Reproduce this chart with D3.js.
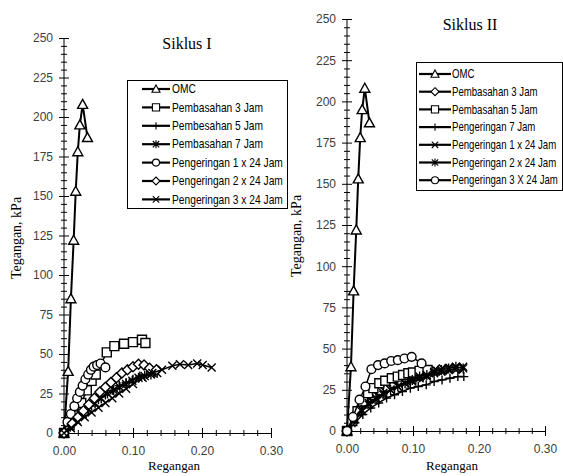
<!DOCTYPE html>
<html>
<head>
<meta charset="utf-8">
<script src="https://cdn.jsdelivr.net/npm/d3@7"></script>
<style>
  body { margin: 0; background: #fff; }
  .tick text { font-family: 'Liberation Sans', Arial, sans-serif; font-size: 12px; fill: #404040; }
  .serif { font-family: 'Liberation Serif', 'Times New Roman', serif; fill: #000; }
  .legend-text { font-family: 'Liberation Sans', Arial, sans-serif; font-size: 12px; fill: #000; }
</style>
</head>
<body>
<svg id="chart" width="563" height="476"></svg>
<script>
// ticks
const xTicks = [0, 0.1, 0.2, 0.3]
const yTicks = [0, 25, 50, 75, 100, 125, 150, 175, 200, 225, 250]

// OMC curve (same in both cycles)
const omcStrain = [0, 0.006, 0.010, 0.014, 0.017, 0.020, 0.023, 0.027, 0.034]
const omcStress = [0, 39, 85, 122, 153, 178, 195, 208, 187]

// Siklus I
const s1Basah3Strain = [0, 0.008, 0.016, 0.025, 0.033, 0.040, 0.046, 0.062, 0.073, 0.087, 0.100, 0.113, 0.118]
const s1Basah3Stress = [0, 5, 11, 19, 27, 33, 37, 51, 55, 56.5, 57.5, 59, 57]
const s1Basah5Strain = [0, 0.010, 0.020, 0.030, 0.040, 0.050, 0.060, 0.070, 0.080, 0.090, 0.100, 0.110, 0.120, 0.130]
const s1Basah5Stress = [0, 5, 9, 13, 17, 21, 24, 27, 30, 32, 34, 36, 37, 38]
const s1Basah7Strain = [0, 0.009, 0.018, 0.027, 0.036, 0.045, 0.054, 0.063, 0.072, 0.081, 0.090, 0.099, 0.108, 0.117, 0.126, 0.135]
const s1Basah7Stress = [0, 4, 8, 12, 15, 19, 22, 25, 27, 29, 31, 33, 35, 36, 37, 38]
const s1Kering1Strain = [0, 0.005, 0.010, 0.015, 0.019, 0.023, 0.027, 0.031, 0.035, 0.039, 0.043, 0.048, 0.053, 0.060]
const s1Kering1Stress = [0, 7, 12, 17, 22, 26, 30, 34, 37, 40, 42, 43, 44, 41.5]
const s1Kering2Strain = [0, 0.012, 0.020, 0.028, 0.036, 0.044, 0.052, 0.060, 0.068, 0.076, 0.084, 0.092, 0.100, 0.108, 0.116, 0.124, 0.134]
const s1Kering2Stress = [0, 6, 10, 14, 18, 22, 26, 29, 32, 35, 38, 40, 42, 43.5, 43, 41, 40]
const s1Kering3Strain = [0, 0.010, 0.020, 0.030, 0.040, 0.050, 0.060, 0.070, 0.080, 0.090, 0.100, 0.114, 0.128, 0.142, 0.157, 0.168, 0.180, 0.193, 0.201, 0.214]
const s1Kering3Stress = [0, 3, 7, 10, 13, 16, 19, 22, 25, 28, 31, 35, 38, 40, 42.5, 43.5, 43, 44, 43, 41.5]

// Siklus II
const s2Basah3Strain = [0, 0.010, 0.020, 0.030, 0.040, 0.050, 0.060, 0.070, 0.080, 0.090, 0.100, 0.110, 0.120, 0.130, 0.140, 0.150, 0.160, 0.170]
const s2Basah3Stress = [0, 9, 14, 18, 21, 24, 26, 28, 30, 31, 32, 33, 35, 36, 37, 37.5, 38, 38]
const s2Basah5Strain = [0, 0.008, 0.016, 0.024, 0.032, 0.040, 0.049, 0.058, 0.068, 0.077, 0.085, 0.093, 0.100, 0.110, 0.122]
const s2Basah5Stress = [0, 6, 12, 18, 23, 26, 29, 30.5, 32, 33, 34, 35, 35.5, 36.5, 37]
const s2Kering7Strain = [0, 0.012, 0.024, 0.036, 0.048, 0.060, 0.072, 0.084, 0.096, 0.108, 0.120, 0.132, 0.144, 0.156, 0.168, 0.177]
const s2Kering7Stress = [0, 5, 10, 14, 17, 20, 22, 24, 26, 27, 28, 30, 31, 32, 33, 33]
const s2Kering1Strain = [0, 0.011, 0.022, 0.033, 0.044, 0.055, 0.066, 0.077, 0.088, 0.099, 0.110, 0.121, 0.132, 0.143, 0.154, 0.165, 0.176]
const s2Kering1Stress = [0, 7, 12, 16, 19, 22, 25, 27, 29, 30, 32, 33, 35, 36, 37, 38, 39]
const s2Kering2Strain = [0, 0.011, 0.022, 0.033, 0.044, 0.055, 0.066, 0.077, 0.088, 0.099, 0.110, 0.121, 0.132, 0.143, 0.154, 0.165, 0.176]
const s2Kering2Stress = [0, 8, 13, 17, 20, 23, 25, 27, 29, 31, 33, 34, 36, 37, 38, 39, 38]
const s2Kering3Strain = [0, 0.009, 0.019, 0.028, 0.037, 0.047, 0.057, 0.067, 0.077, 0.087, 0.098, 0.113]
const s2Kering3Stress = [0, 8.5, 19, 27, 37.5, 40, 41, 42.5, 43, 44, 45, 41]

const zip = (xs, ys) => xs.map((x, i) => [x, ys[i]])

const panels = [
  {
    title: 'Siklus I',
    titlePos: [187, 49],
    xRange: [64, 271],
    yRange: [433, 38],
    xLabelPos: [174, 470],
    yLabelPos: [21, 238],
    legend: { x: 127, y: 80, w: 160, h: 128, row0: 89, rowGap: 18.4, lineX: [142, 170], textX: 172, maxText: 111 },
    series: [
      { name: 'OMC', marker: 'triangle', width: 2, data: zip(omcStrain, omcStress) },
      { name: 'Pembasahan 3 Jam', marker: 'square', width: 1.5, data: zip(s1Basah3Strain, s1Basah3Stress) },
      { name: 'Pembesahan 5 Jam', marker: 'plus', width: 1.5, data: zip(s1Basah5Strain, s1Basah5Stress) },
      { name: 'Pembasahan 7 Jam', marker: 'star', width: 1.5, data: zip(s1Basah7Strain, s1Basah7Stress) },
      { name: 'Pengeringan 1 x 24 Jam', marker: 'circle', width: 1.5, data: zip(s1Kering1Strain, s1Kering1Stress) },
      { name: 'Pengeringan 2 x 24 Jam', marker: 'diamond', width: 1.5, data: zip(s1Kering2Strain, s1Kering2Stress) },
      { name: 'Pengeringan 3 x 24 Jam', marker: 'x', width: 1.5, data: zip(s1Kering3Strain, s1Kering3Stress) }
    ]
  },
  {
    title: 'Siklus II',
    titlePos: [470, 30],
    xRange: [347, 545],
    yRange: [431, 19],
    xLabelPos: [452, 470],
    yLabelPos: [301, 236],
    legend: { x: 416, y: 62, w: 146, h: 128, row0: 74, rowGap: 17.7, lineX: [419, 451], textX: 452, maxText: 106 },
    series: [
      { name: 'OMC', marker: 'triangle', width: 2, data: zip(omcStrain, omcStress) },
      { name: 'Pembasahan 3 Jam', marker: 'diamond', width: 1.5, data: zip(s2Basah3Strain, s2Basah3Stress) },
      { name: 'Pembasahan 5 Jam', marker: 'square', width: 1.5, data: zip(s2Basah5Strain, s2Basah5Stress) },
      { name: 'Pengeringan 7 Jam', marker: 'plus', width: 1.5, data: zip(s2Kering7Strain, s2Kering7Stress) },
      { name: 'Pengeringan 1 x 24 Jam', marker: 'x', width: 1.5, data: zip(s2Kering1Strain, s2Kering1Stress) },
      { name: 'Pengeringan 2 x 24 Jam', marker: 'star', width: 1.5, data: zip(s2Kering2Strain, s2Kering2Stress) },
      { name: 'Pengeringan 3 X 24 Jam', marker: 'circle', width: 1.5, data: zip(s2Kering3Strain, s2Kering3Stress) }
    ]
  }
]

const svg = d3.select('#chart')

function markerPath (type) {
  switch (type) {
    case 'triangle': return 'M0,-5L5,4L-5,4Z'
    case 'square': return 'M-4.5,-4.5H4.5V4.5H-4.5Z'
    case 'circle': return d3.symbol(d3.symbolCircle, 60)()
    case 'diamond': return 'M0,-5L5,0L0,5L-5,0Z'
    case 'plus': return 'M-4.5,0H4.5M0,-4.5V4.5'
    case 'x': return 'M-4,-4L4,4M-4,4L4,-4'
    case 'star': return 'M-4,-4L4,4M-4,4L4,-4M0,-5V5'
    default:
      console.warn(`unknown marker: ${type}`)
      return ''
  }
}

function drawMarker (sel, type) {
  const filled = ['triangle', 'square', 'circle', 'diamond'].includes(type)
  sel.append('path')
    .attr('d', markerPath(type))
    .attr('fill', filled ? '#fff' : 'none')
    .attr('stroke', '#000')
    .attr('stroke-width', 1.4)
}

function minorValues (step, max, majorStep) {
  const out = []
  for (let v = 0; v <= max + 1e-9; v += step) {
    const r = Math.round(v / step) * step
    if (Math.abs(r / majorStep - Math.round(r / majorStep)) > 1e-6) out.push(r)
  }
  return out
}

panels.forEach(function (p) {
  const x = d3.scaleLinear().domain([0, 0.3]).range(p.xRange)
  const y = d3.scaleLinear().domain([0, 250]).range(p.yRange)
  const g = svg.append('g')

  // y axis: minor then major, ticks crossing the axis line
  const yMinor = g.append('g')
    .attr('transform', `translate(${p.xRange[0]},0)`)
    .call(d3.axisLeft(y).tickValues(minorValues(5, 250, 25)).tickSize(3).tickSizeOuter(0).tickFormat(''))
  yMinor.select('.domain').remove()
  yMinor.selectAll('.tick line').attr('x1', 3)

  const yAxis = g.append('g')
    .attr('transform', `translate(${p.xRange[0]},0)`)
    .call(d3.axisLeft(y).tickValues(yTicks).tickSize(5).tickSizeOuter(0).tickPadding(6))
  yAxis.selectAll('.tick line').attr('x1', 5)
  yAxis.select('.domain').attr('d', `M0,${p.yRange[1]}V${p.yRange[0]}`)

  // x axis
  const xMinor = g.append('g')
    .attr('transform', `translate(0,${p.yRange[0]})`)
    .call(d3.axisBottom(x).tickValues(minorValues(0.02, 0.3, 0.1)).tickSize(3).tickSizeOuter(0).tickFormat(''))
  xMinor.select('.domain').remove()
  xMinor.selectAll('.tick line').attr('y1', -3)

  const xAxis = g.append('g')
    .attr('transform', `translate(0,${p.yRange[0]})`)
    .call(d3.axisBottom(x).tickValues(xTicks).tickSize(5).tickSizeOuter(0).tickPadding(8).tickFormat(d3.format('.2f')))
  xAxis.selectAll('.tick line').attr('y1', -5)

  g.selectAll('.domain, .tick line').attr('stroke', '#000')

  // series
  const line = d3.line().x(d => x(d[0])).y(d => y(d[1]))
  p.series.forEach(function (s) {
    g.append('path')
      .datum(s.data)
      .attr('d', line)
      .attr('fill', 'none')
      .attr('stroke', '#000')
      .attr('stroke-width', s.width)
    g.selectAll(null)
      .data(s.data)
      .enter()
      .append('g')
      .attr('transform', d => `translate(${x(d[0])},${y(d[1])})`)
      .each(function () { drawMarker(d3.select(this), s.marker) })
  })

  // titles
  g.append('text').attr('class', 'serif')
    .attr('x', p.titlePos[0]).attr('y', p.titlePos[1])
    .attr('text-anchor', 'middle').attr('font-size', 16)
    .text(p.title)
  g.append('text').attr('class', 'serif')
    .attr('x', p.xLabelPos[0]).attr('y', p.xLabelPos[1])
    .attr('text-anchor', 'middle').attr('font-size', 13)
    .text('Regangan')
  g.append('text').attr('class', 'serif')
    .attr('transform', `translate(${p.yLabelPos[0]},${p.yLabelPos[1]}) rotate(-90)`)
    .attr('text-anchor', 'middle').attr('font-size', 14)
    .text('Tegangan, kPa')

  // legend
  const L = p.legend
  const lg = g.append('g')
  lg.append('rect')
    .attr('x', L.x + 0.5).attr('y', L.y + 0.5)
    .attr('width', L.w).attr('height', L.h)
    .attr('fill', '#fff').attr('stroke', '#000').attr('stroke-width', 1)
  const labels = []
  p.series.forEach(function (s, i) {
    const ry = L.row0 + i * L.rowGap
    lg.append('line')
      .attr('x1', L.lineX[0]).attr('x2', L.lineX[1])
      .attr('y1', ry).attr('y2', ry)
      .attr('stroke', '#000').attr('stroke-width', 2.2)
    const m = lg.append('g')
      .attr('transform', `translate(${(L.lineX[0] + L.lineX[1]) / 2},${ry}) scale(0.8)`)
    drawMarker(m, s.marker)
    const holder = lg.append('g').attr('transform', `translate(${L.textX},${ry})`)
    holder.append('text').attr('class', 'legend-text')
      .attr('dy', '0.35em')
      .text(s.name)
    labels.push(holder)
  })
  // narrow the sans face so the longest entry fits like the condensed legend font
  const widest = d3.max(labels, h => h.select('text').node().getComputedTextLength())
  const squeeze = L.maxText / widest
  labels.forEach(function (h) {
    h.attr('transform', h.attr('transform') + ` scale(${squeeze},1)`)
  })
})
</script>
</body>
</html>
